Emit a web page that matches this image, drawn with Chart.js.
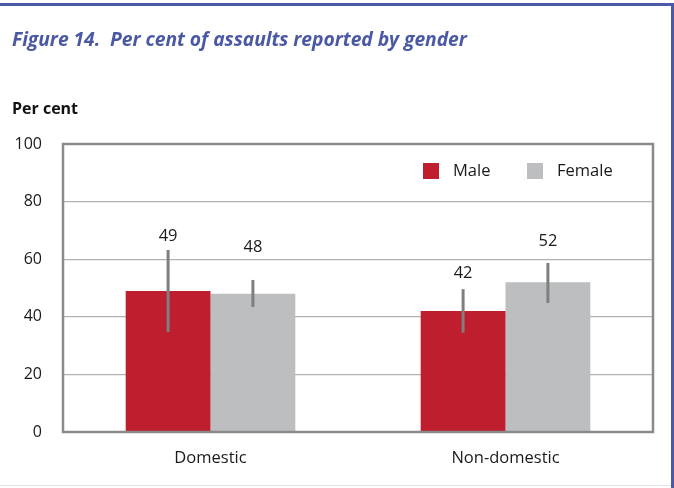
<!DOCTYPE html>
<html>
<head>
<meta charset="utf-8">
<script src="https://cdn.jsdelivr.net/npm/chart.js@4/dist/chart.umd.min.js"></script>
<style>
  html, body { margin: 0; padding: 0; background: #fff; }
  #wrap { position: relative; width: 674px; height: 488px; overflow: hidden; }
  #chart { position: absolute; left: 0; top: 0; }
  .topline { position: absolute; left: 0; top: 3px; width: 674px; height: 3px; background: #4c5aa6; }
  .rightline { position: absolute; left: 671px; top: 3px; width: 3px; height: 488px; background: #4c5aa6; }
  .bottomline { position: absolute; left: 0; top: 485px; width: 671px; height: 1px; background: #e2e3f0; }
  .title { position: absolute; left: 12px; top: 25px; font-family: "Open Sans", sans-serif; font-weight: bold; font-style: italic; font-size: 19.3px; color: #4b59a5; white-space: nowrap; letter-spacing: -0.05px; }
  .ylabel { position: absolute; left: 12px; top: 97px; font-family: "Open Sans", sans-serif; font-weight: bold; font-size: 16px; color: #111; }
</style>
</head>
<body>
<div id="wrap">
  <canvas id="chart" width="674" height="488"></canvas>
  <div class="topline"></div>
  <div class="rightline"></div>
  <div class="bottomline"></div>
  <div class="title">Figure 14.&nbsp; Per cent of assaults reported by gender</div>
  <div class="ylabel">Per cent</div>
</div>
<script>
// categories and series
const categories = ["Domestic", "Non-domestic"]
const maleValues = [49, 42]
const femaleValues = [48, 52]
// error bar ranges
const maleLow = [34.7, 34.5]
const maleHigh = [63.2, 49.6]
const femaleLow = [43.4, 44.8]
const femaleHigh = [52.8, 58.7]
// where the value labels sit (in per cent units)
const maleLabelAt = [68.1, 55.2]
const femaleLabelAt = [64.2, 66.1]
const yTicks = [0, 20, 40, 60, 80, 100]

const fontFamily = '"Open Sans", sans-serif'

// frame round the plot, error bars, value labels and legend
const extras = {
  id: "extras",
  afterDatasetsDraw(chart) {
    const ctx = chart.ctx
    const y = chart.scales.y
    const area = chart.chartArea
    const lows = [maleLow, femaleLow]
    const highs = [maleHigh, femaleHigh]
    const labelAt = [maleLabelAt, femaleLabelAt]
    ctx.save()
    chart.data.datasets.forEach(function (ds, i) {
      const meta = chart.getDatasetMeta(i)
      meta.data.forEach(function (bar, j) {
        ctx.strokeStyle = "#7f7f7f"
        ctx.lineWidth = 3
        ctx.beginPath()
        ctx.moveTo(bar.x, y.getPixelForValue(lows[i][j]))
        ctx.lineTo(bar.x, y.getPixelForValue(highs[i][j]))
        ctx.stroke()
        ctx.fillStyle = "#1a1a1a"
        ctx.font = "16.5px " + fontFamily
        ctx.textAlign = "center"
        ctx.textBaseline = "middle"
        ctx.fillText(String(ds.data[j]), bar.x, y.getPixelForValue(labelAt[i][j]))
      })
    })
    // plot frame
    ctx.strokeStyle = "#8a8a8a"
    ctx.lineWidth = 2.5
    ctx.strokeRect(area.left, area.top, area.right - area.left, area.bottom - area.top)
    // legend
    let lx = area.right - 230
    const ly = area.top + 27
    chart.data.datasets.forEach(function (ds) {
      ctx.fillStyle = ds.backgroundColor
      ctx.fillRect(lx, ly - 8, 16, 16)
      ctx.fillStyle = "#1a1a1a"
      ctx.font = "16.5px " + fontFamily
      ctx.textAlign = "left"
      ctx.textBaseline = "middle"
      ctx.fillText(ds.label, lx + 30, ly)
      lx += 104
    })
    ctx.restore()
  },
}

new Chart(document.getElementById("chart"), {
  type: "bar",
  data: {
    labels: categories,
    datasets: [
      { label: "Male", data: maleValues, backgroundColor: "#be1e2d" },
      { label: "Female", data: femaleValues, backgroundColor: "#bcbec0" },
    ],
  },
  options: {
    responsive: false,
    animation: false,
    layout: { padding: { left: 0, right: 21, top: 144, bottom: 0 } },
    datasets: { bar: { categoryPercentage: 0.575, barPercentage: 1 } },
    plugins: { legend: { display: false }, tooltip: { enabled: false } },
    scales: {
      x: {
        grid: { display: false, drawTicks: false },
        border: { display: false },
        ticks: { color: "#1a1a1a", font: { family: fontFamily, size: 16.5 }, padding: 16 },
        afterFit(scale) { scale.height = 56 },
      },
      y: {
        min: 0,
        max: 100,
        afterBuildTicks(scale) { scale.ticks = yTicks.map(v => ({ value: v })) },
        grid: { color: "#b3b3b3", lineWidth: 1.2, drawTicks: false },
        border: { display: false },
        ticks: { color: "#1a1a1a", font: { family: fontFamily, size: 16 }, padding: 21 },
        afterFit(scale) { scale.width = 63 },
      },
    },
  },
  plugins: [extras],
})
</script>
</body>
</html>
